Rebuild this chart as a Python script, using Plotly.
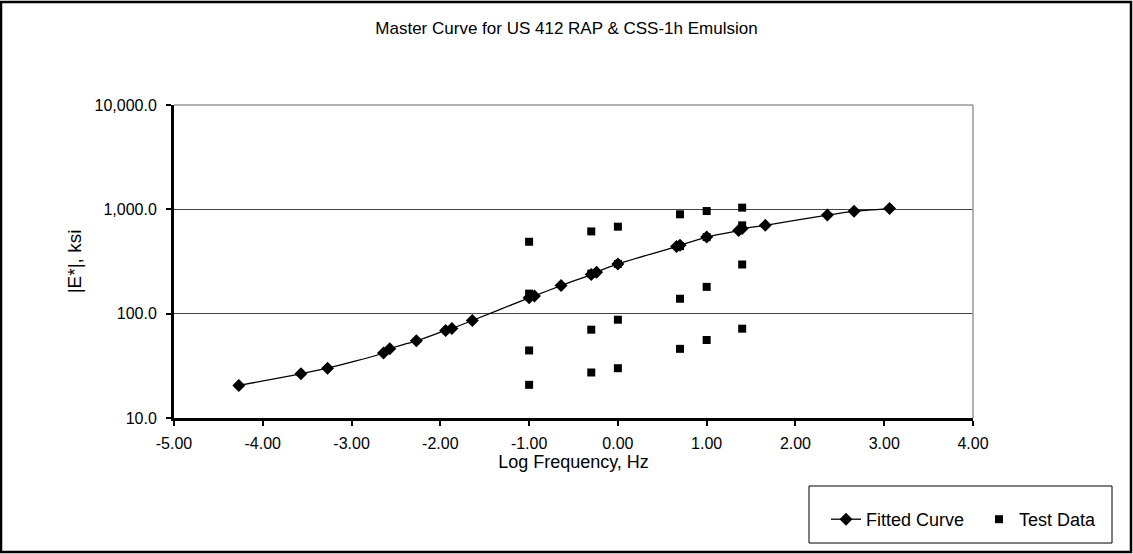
import plotly.graph_objects as go

# Fitted master curve: reduced log frequency vs dynamic modulus |E*| (ksi)
fit_logf = [-4.27, -3.57, -3.27, -2.64, -2.57, -2.27, -1.94, -1.87, -1.64,
            -1.00, -0.94, -0.64, -0.30, -0.24, 0.00, 0.66, 0.70, 1.00,
            1.36, 1.40, 1.66, 2.36, 2.66, 3.06]
fit_E = [20.5, 26.5, 30.0, 42.0, 46.0, 55.0, 69.0, 72.0, 86.0,
         142.0, 148.0, 186.0, 237.0, 250.0, 300.0, 440.0, 452.0, 542.0,
         628.0, 655.0, 702.0, 882.0, 958.0, 1016.0]

# Measured test data at each test frequency (four temperatures)
test_logf = [-1.00] * 4 + [-0.30] * 4 + [0.00] * 4 + [0.70] * 4 + [1.00] * 4 + [1.40] * 4
test_E = [489.0, 155.6, 44.4, 20.8,
          614.0, 242.0, 70.2, 27.3,
          682.0, 300.0, 87.5, 30.0,
          896.0, 444.0, 139.0, 46.0,
          963.0, 542.0, 180.6, 55.9,
          1038.0, 702.0, 296.0, 71.8]

x_ticks = [-5, -4, -3, -2, -1, 0, 1, 2, 3, 4]
x_ticktext = ["-5.00", "-4.00", "-3.00", "-2.00", "-1.00", "0.00", "1.00", "2.00", "3.00", "4.00"]
y_ticks = [10, 100, 1000, 10000]
y_ticktext = ["10.0", "100.0", "1,000.0", "10,000.0"]

FONT = "Liberation Sans, Arial, sans-serif"
W, H = 1133, 554
L, R, T, B = 174, 160, 105, 136
pw, ph = W - L - R, H - T - B


def px_x(v):
    return (v - L) / pw


def px_y(v):
    return (H - B - v) / ph


fig = go.Figure()

fig.add_trace(go.Scatter(
    x=fit_logf, y=fit_E, name="Fitted Curve", mode="lines+markers",
    line=dict(color="black", width=1.3, shape="spline", smoothing=0.6),
    marker=dict(symbol="diamond", size=10, color="black"),
))
fig.add_trace(go.Scatter(
    x=test_logf, y=test_E, name="Test Data", mode="markers",
    marker=dict(symbol="square", size=8, color="black"),
))

shapes = [
    # outer chart border
    dict(type="rect", xref="paper", yref="paper",
         x0=px_x(1), x1=px_x(W - 2), y0=px_y(H - 2), y1=px_y(2),
         line=dict(color="black", width=2.5), layer="below"),
    # plot area top and right edges
    dict(type="line", xref="paper", yref="paper", x0=0, x1=1, y0=1, y1=1,
         line=dict(color="#999999", width=1.5)),
    dict(type="line", xref="paper", yref="paper", x0=1, x1=1, y0=0, y1=1,
         line=dict(color="#999999", width=1.5)),
    # legend frame
    dict(type="rect", xref="paper", yref="paper",
         x0=px_x(809), x1=px_x(1112), y0=px_y(543), y1=px_y(486),
         line=dict(color="black", width=1)),
]

fig.update_layout(
    width=W, height=H,
    margin=dict(l=L, r=R, t=T, b=B, autoexpand=False),
    paper_bgcolor="white", plot_bgcolor="white",
    font=dict(family=FONT, color="black", size=12),
    title=dict(text="Master Curve for US 412 RAP & CSS-1h Emulsion",
               x=0.5, xanchor="center", y=1 - 28 / H, yanchor="middle",
               font=dict(family=FONT, size=17, color="black")),
    xaxis=dict(range=[-5, 4], tickvals=x_ticks, ticktext=x_ticktext,
               showgrid=False, zeroline=False,
               showline=True, linecolor="black", linewidth=3,
               ticks="outside", ticklen=5, tickwidth=1.5, tickcolor="black",
               tickfont=dict(size=16, color="black"), ticklabelstandoff=4,
               title=dict(text="Log Frequency, Hz",
                          font=dict(size=18, color="black"), standoff=3)),
    yaxis=dict(type="log", range=[1, 4], tickvals=y_ticks, ticktext=y_ticktext,
               showgrid=True, gridcolor="#444444", gridwidth=1,
               zeroline=False,
               showline=True, linecolor="black", linewidth=3,
               ticks="outside", ticklen=5, tickwidth=1.5, tickcolor="black",
               tickfont=dict(size=16, color="black"), ticklabelstandoff=6,
               title=dict(text="|E*|, ksi",
                          font=dict(size=19, color="black"), standoff=8)),
    legend=dict(orientation="h", x=px_x(826), y=px_y(501),
                xanchor="left", yanchor="top",
                borderwidth=0, bgcolor="rgba(0,0,0,0)",
                font=dict(size=18, color="black"), itemwidth=30,
                entrywidth=108, entrywidthmode="pixels"),
    showlegend=True,
    shapes=shapes,
)

fig.write_html("out.html")
